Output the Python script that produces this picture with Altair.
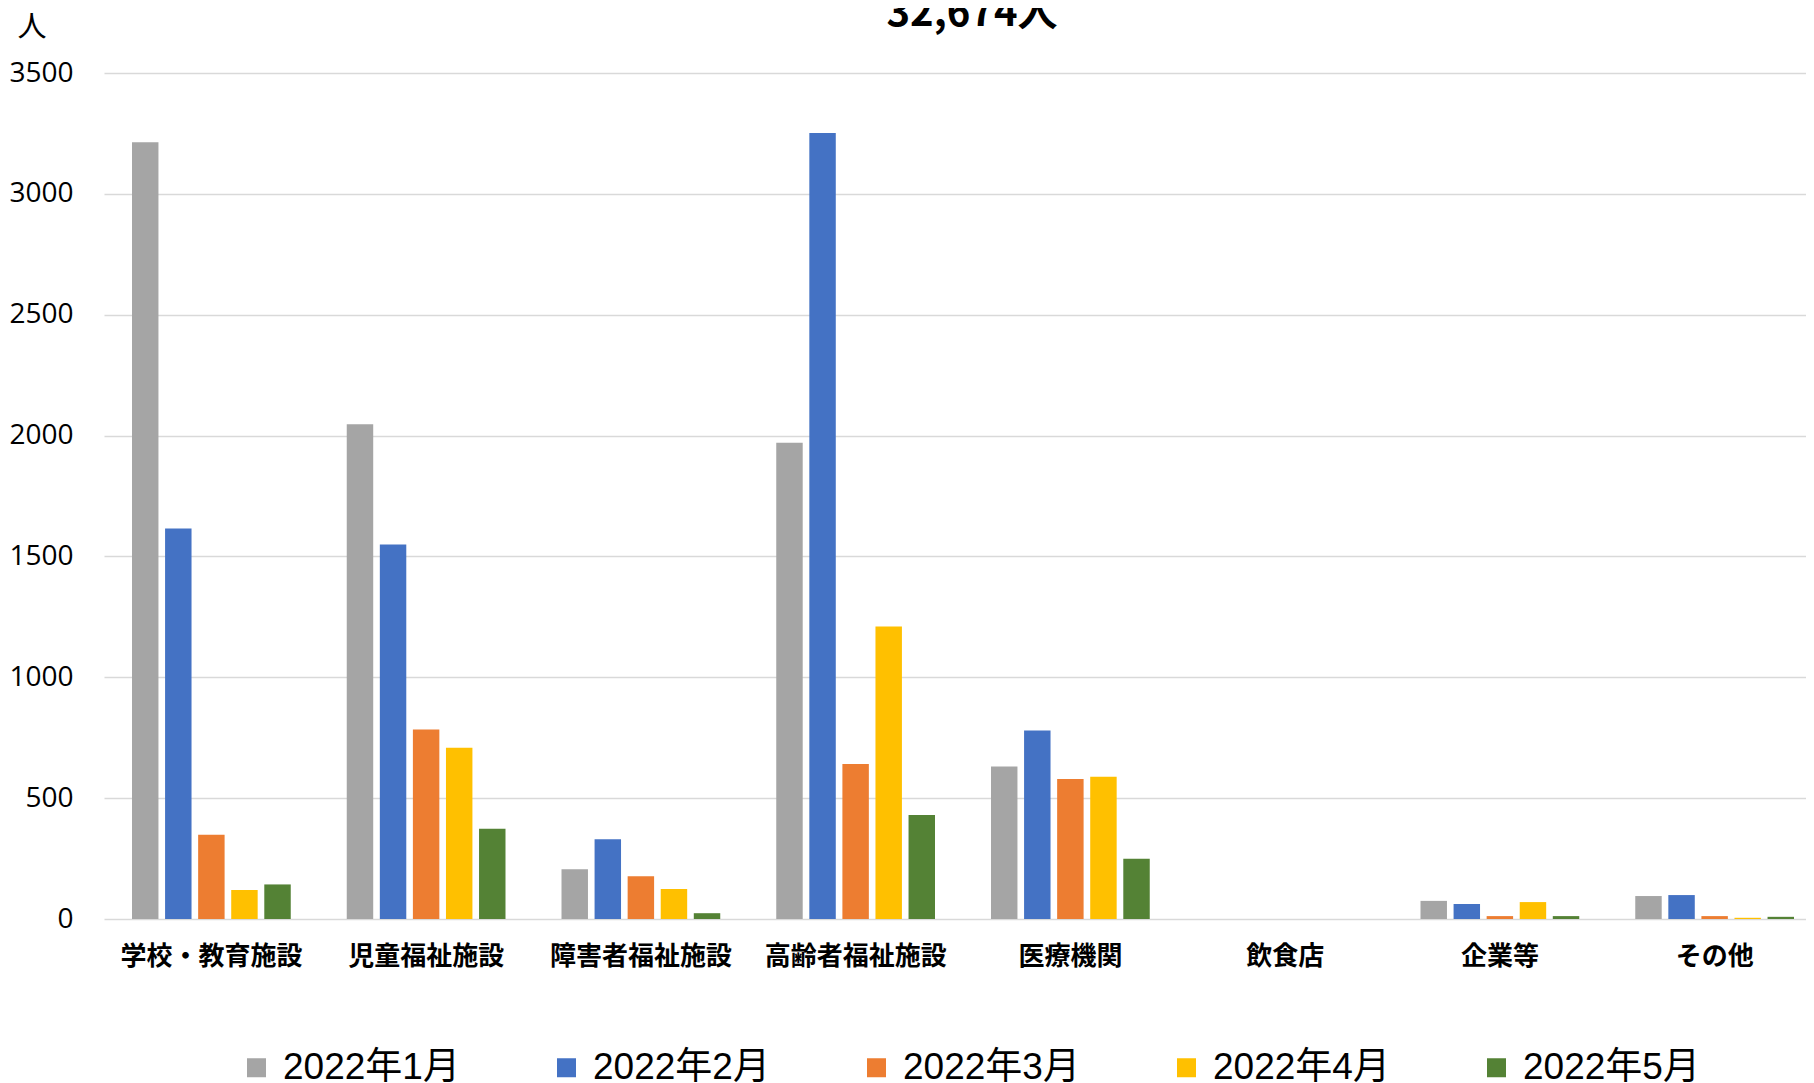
import altair as alt
import pandas as pd

categories = ["学校・教育施設", "児童福祉施設", "障害者福祉施設", "高齢者福祉施設",
              "医療機関", "飲食店", "企業等", "その他"]
months = ["2022年1月", "2022年2月", "2022年3月", "2022年4月", "2022年5月"]
jan = [3214, 2047, 206, 1970, 631, 0, 75, 95]
feb = [1616, 1549, 330, 3252, 780, 0, 62, 99]
mar = [349, 784, 177, 641, 579, 0, 12, 12]
apr = [120, 708, 124, 1210, 588, 0, 70, 5]
may = [143, 373, 24, 430, 249, 0, 12, 9]
colors = ["#A5A5A5", "#4472C4", "#ED7D31", "#FFC000", "#548235"]
y_ticks = [0, 500, 1000, 1500, 2000, 2500, 3000, 3500]
title_text = "32,674人"
unit_text = "人"

rows = []
for m, vals in zip(months, [jan, feb, mar, apr, may]):
    for c, v in zip(categories, vals):
        rows.append({"category": c, "month": m, "value": v})
df = pd.DataFrame(rows)

bars = alt.Chart(df).mark_bar().encode(
    x=alt.X("category:N", sort=categories, title=None,
            scale=alt.Scale(paddingInner=0.23, paddingOuter=0.115),
            axis=alt.Axis(labelAngle=0, labelFont="Noto Sans CJK JP", labelFontWeight="bold",
                          labelFontSize=26, labelColor="#000000", labelPadding=24,
                          labelLimit=0, ticks=False, domain=False, grid=False)),
    xOffset=alt.XOffset("month:N", sort=months,
                        scale=alt.Scale(paddingInner=0.2, paddingOuter=0.1)),
    y=alt.Y("value:Q", title=None, scale=alt.Scale(domain=[0, 3500], nice=False),
            axis=alt.Axis(values=y_ticks, format="d", labelFont="Open Sans", labelFontSize=28,
                          labelColor="#000000", labelPadding=31, ticks=False, domain=False,
                          gridColor="#D9D9D9", gridWidth=1.5)),
    color=alt.Color("month:N", sort=months, title=None,
                    scale=alt.Scale(domain=months, range=colors),
                    legend=alt.Legend(orient="none", legendX=134, legendY=976,
                                      direction="horizontal", columns=5,
                                      symbolType="square", symbolSize=361,
                                      symbolStrokeWidth=0, labelFontSize=37,
                                      labelFont="Arial, 'Liberation Sans', 'Noto Sans CJK JP'",
                                      labelColor="#000000", labelOffset=8,
                                      labelLimit=0, columnPadding=88)),
)

title_mark = alt.Chart(pd.DataFrame({"t": [title_text]})).mark_text(
    font="Noto Sans CJK JP", fontWeight="bold", fontSize=40, align="center",
    baseline="alphabetic", color="#000000"
).encode(text="t:N", x=alt.value(868), y=alt.value(-47))

unit_mark = alt.Chart(pd.DataFrame({"t": [unit_text]})).mark_text(
    font="Noto Sans CJK JP", fontSize=29, align="center",
    baseline="middle", color="#000000"
).encode(text="t:N", x=alt.value(-72), y=alt.value(-45))

chart = alt.layer(bars, title_mark, unit_mark).properties(
    width=1718, height=846,
    padding={"left": 96, "top": 65, "right": -16, "bottom": 164},
    autosize=alt.AutoSizeParams(type="none"),
).configure_view(stroke=None)

chart.save("out.html", embed_options={"renderer": "svg", "actions": False})
